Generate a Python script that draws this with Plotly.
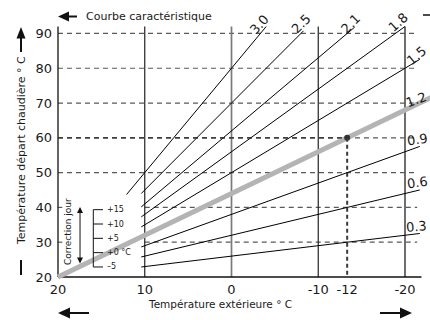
import plotly.graph_objects as go

# Heating curves: supply temperature vs outdoor temperature, y = 20 + slope * (20 - x)
curve_slopes = [0.3, 0.6, 0.9, 1.2, 1.5, 1.8, 2.1, 2.5, 3.0]
curve_labels = ["0.3", "0.6", "0.9", "1.2", "1.5", "1.8", "2.1", "2.5", "3.0"]
curve_start_outdoor = [10.4, 10.4, 10.4, 20.0, 10.4, 10.4, 10.4, 10.4, 12.1]
curve_end_outdoor = [-21.7, -21.7, -21.7, -23.0, -21.7, -20.0, -14.2, -8.3, -4.0]
highlight_slope = 1.2
base_temp = 20

supply_ticks = [20, 30, 40, 50, 60, 70, 80, 90]
outdoor_ticks = [20, 10, 0, -10, -20]
outdoor_tick_text = ["20", "10", "0", "-10", "-20"]

design_supply = 60
design_outdoor_text = "-12"

day_correction = [15, 10, 5, 0, -5]
day_correction_text = ["+15", "+10", "+5", "+0 °C", "–5"]

# ---- pixel geometry of the chart ----
W, H = 430, 320
PX_X = 8.675          # px per degree outdoor
PX_Y = 3.479          # px per degree supply
X0_PX, Y0_PX = 58, 277  # where (20, 20) lands
L, R, T, B = 54, 430, 5, 280

x_range = [20 + (X0_PX - L) / PX_X, 20 - (R - X0_PX) / PX_X]
y_range = [20 - (B - Y0_PX) / PX_Y, 20 + (Y0_PX - T) / PX_Y]


def paper(px, py):
    return (px - L) / (R - L), (B - py) / (B - T)


def supply(slope, x):
    return base_temp + slope * (base_temp - x)


FONT = "DejaVu Sans"
TXT = "#1a1a1a"
DASH_COL = "#5a5a5a"

fig = go.Figure()
shapes = []
annotations = []

# dashed horizontal reference lines
for yv in supply_ticks[1:]:
    x_start = 10 if yv in (30, 40) else 20
    shapes.append(dict(type="line", xref="x", yref="y", x0=x_start, x1=-21.4, y0=yv, y1=yv,
                       line=dict(color=DASH_COL, width=1.2, dash="5px,4px"), layer="below"))
    if yv in (30, 40):
        shapes.append(dict(type="line", xref="x", yref="y", x0=20, x1=19.5, y0=yv, y1=yv,
                           line=dict(color=DASH_COL, width=1.2), layer="below"))

# solid vertical grid lines
grid_style = {10: ("#222222", 1.2), 0: ("#7a7a7a", 1.7), -10: ("#222222", 1.2), -20: ("#555555", 1.7)}
for xv in outdoor_ticks[1:]:
    col, wd = grid_style[xv]
    shapes.append(dict(type="line", xref="x", yref="y", x0=xv, x1=xv, y0=20, y1=92,
                       line=dict(color=col, width=wd), layer="below"))

# axis lines
shapes.append(dict(type="line", xref="x", yref="y", x0=20, x1=20, y0=20, y1=92,
                   line=dict(color="#111111", width=1.3), layer="below"))
shapes.append(dict(type="line", xref="x", yref="y", x0=20, x1=-21.9, y0=20, y1=20,
                   line=dict(color="#111111", width=1.5), layer="below"))

# thin heating curves
for s, x0, x1 in zip(curve_slopes, curve_start_outdoor, curve_end_outdoor):
    if s == highlight_slope:
        continue
    fig.add_trace(go.Scatter(x=[x0, x1], y=[supply(s, x0), supply(s, x1)], mode="lines",
                             line=dict(color="#000000", width=1), hoverinfo="skip", showlegend=False))

# highlighted curve
hi = curve_slopes.index(highlight_slope)
hx = [curve_start_outdoor[hi], curve_end_outdoor[hi]]
fig.add_trace(go.Scatter(x=hx, y=[supply(highlight_slope, v) for v in hx], mode="lines",
                         line=dict(color="#b4b4b4", width=5), hoverinfo="skip", showlegend=False))

# design point on the highlighted curve
design_outdoor = base_temp - (design_supply - base_temp) / highlight_slope
shapes.append(dict(type="line", xref="x", yref="y", x0=20, x1=design_outdoor,
                   y0=design_supply, y1=design_supply,
                   line=dict(color="#2a2a2a", width=1.4, dash="5px,4px")))
shapes.append(dict(type="line", xref="x", yref="y", x0=design_outdoor, x1=design_outdoor,
                   y0=design_supply, y1=20,
                   line=dict(color="#3a3a3a", width=2, dash="4px,3px")))
fig.add_trace(go.Scatter(x=[design_outdoor], y=[design_supply], mode="markers",
                         marker=dict(color="#333333", size=6), hoverinfo="skip", showlegend=False))

# curve labels near the line ends
label_style = {
    "3.0": (-7, 2, -48), "2.5": (-2, 7, -45), "2.1": (-4, 4, -45), "1.8": (-7, 4, -42),
    "1.5": (-3, 4, -40), "1.2": (-3, 3, -20), "0.9": (-2, 7, -8), "0.6": (-2, 7, -8),
    "0.3": (-3, 7, -5),
}
for s, lab, x1 in zip(curve_slopes, curve_labels, curve_end_outdoor):
    lx = max(x1, -21.7)
    dx, dy, ang = label_style[lab]
    annotations.append(dict(x=lx, y=supply(s, lx), xref="x", yref="y", text=lab, showarrow=False,
                            xanchor="center", yanchor="middle", xshift=dx, yshift=dy, textangle=ang,
                            font=dict(family=FONT, size=13, color=TXT)))

# day correction inset
corr_y0, corr_k = 27.0, 0.8235
corr_x_bar, corr_x_tick, corr_x_text = 15.93, 14.81, 14.55
cy = [corr_y0 + corr_k * c for c in day_correction]
shapes.append(dict(type="line", xref="x", yref="y", x0=corr_x_bar, x1=corr_x_bar, y0=max(cy), y1=min(cy),
                   line=dict(color="#111111", width=1)))
for yv, txt in zip(cy, day_correction_text):
    shapes.append(dict(type="line", xref="x", yref="y", x0=corr_x_bar, x1=corr_x_tick, y0=yv, y1=yv,
                       line=dict(color="#111111", width=1)))
    annotations.append(dict(x=corr_x_text, y=yv, xref="x", yref="y", text=txt, showarrow=False,
                            xanchor="left", yanchor="middle", font=dict(family=FONT, size=8, color=TXT)))
annotations.append(dict(x=18.85, y=33.2, xref="x", yref="y", text="Correction jour", showarrow=False,
                        textangle=-90, xanchor="center", yanchor="middle",
                        font=dict(family=FONT, size=9, color=TXT)))
annotations.append(dict(x=17.46, y=40.1, ax=17.46, ay=23.45, xref="x", yref="y", axref="x", ayref="y",
                        text="", showarrow=True, arrowhead=2, arrowside="end+start", arrowsize=1.2,
                        arrowwidth=1, arrowcolor="#111111"))


# decorative arrows around the axes (paper coordinates from pixels)
def tri(p1, p2, p3):
    a, b, c = paper(*p1), paper(*p2), paper(*p3)
    return dict(type="path", xref="paper", yref="paper",
                path=f"M {a[0]} {a[1]} L {b[0]} {b[1]} L {c[0]} {c[1]} Z",
                fillcolor="#111111", line=dict(width=0))


def seg(p1, p2, w=2):
    a, b = paper(*p1), paper(*p2)
    return dict(type="line", xref="paper", yref="paper", x0=a[0], y0=a[1], x1=b[0], y1=b[1],
                line=dict(color="#111111", width=w))


shapes += [
    tri((16.5, 38.5), (21, 27), (25.5, 38.5)), seg((21, 38), (21, 52)),
    seg((21, 260), (21, 275)),
    tri((58, 16.5), (69, 11.5), (69, 21.5)), seg((69, 16.5), (77, 16.5)),
    tri((58, 313), (70, 307.5), (70, 318.5)), seg((70, 313), (89, 313)),
    tri((412, 313), (400, 307.5), (400, 318.5)), seg((380, 313), (400, 313)),
    seg((423, 15), (430, 15), 1.5),
]


def ptext(px, py, text, size=11, angle=0, xanchor="center"):
    x, y = paper(px, py)
    return dict(x=x, y=y, xref="paper", yref="paper", text=text, showarrow=False, textangle=angle,
                xanchor=xanchor, yanchor="middle", font=dict(family=FONT, size=size, color=TXT))


annotations += [
    ptext(84, 16.5, "Courbe caractéristique", xanchor="left"),
    ptext(21, 151, "Température départ chaudière ° C", angle=-90),
    ptext(220, 304, "Température extérieure ° C", size=10.5),
]

fig.update_layout(
    width=W, height=H, margin=dict(l=L, r=W - R, t=T, b=H - B),
    paper_bgcolor="white", plot_bgcolor="white", showlegend=False,
    shapes=shapes, annotations=annotations,
    xaxis=dict(range=x_range, showgrid=False, zeroline=False, showline=False, ticks="",
               tickvals=outdoor_ticks + [design_outdoor],
               ticktext=outdoor_tick_text + [design_outdoor_text],
               tickfont=dict(family=FONT, size=13, color=TXT), ticklabelstandoff=0),
    yaxis=dict(range=y_range, showgrid=False, zeroline=False, showline=False, ticks="",
               tickvals=supply_ticks, tickfont=dict(family=FONT, size=13, color=TXT),
               ticklabelstandoff=1),
)

fig.write_html("out.html")
